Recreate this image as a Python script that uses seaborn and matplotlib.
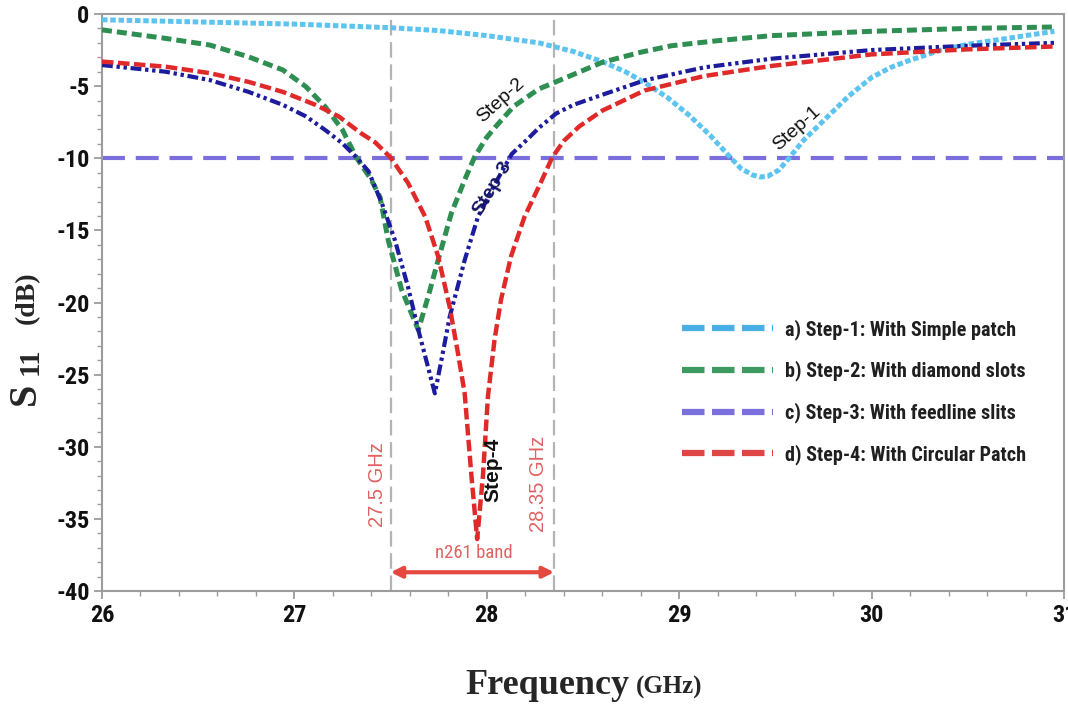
import matplotlib
matplotlib.use("Agg")
import matplotlib.pyplot as plt
from matplotlib import font_manager
from matplotlib.lines import Line2D
import numpy as np
import pandas as pd
import seaborn as sns

# ---------------- data ----------------
freq_step1 = [26.0, 26.5, 27.0, 27.5, 27.75, 28.0, 28.27, 28.45, 28.6, 28.72, 28.82, 28.94,
              29.05, 29.16, 29.27, 29.32, 29.38, 29.42, 29.46, 29.52, 29.57, 29.65, 29.75,
              29.88, 30.0, 30.1, 30.2, 30.36, 30.5, 30.7, 30.95]
s11_step1 = [-0.4, -0.55, -0.7, -0.95, -1.15, -1.5, -2.0, -2.6, -3.3, -4.0, -4.75, -5.8,
             -7.0, -8.4, -10.0, -10.7, -11.15, -11.3, -11.25, -10.8, -10.0, -8.7, -7.4,
             -5.7, -4.4, -3.7, -3.2, -2.5, -2.1, -1.7, -1.2]

freq_step2 = [26.0, 26.33, 26.56, 26.76, 26.94, 27.06, 27.16, 27.25, 27.32, 27.4, 27.445,
              27.488, 27.557, 27.644, 27.695, 27.747, 27.816, 27.885, 27.937, 27.997, 28.04,
              28.14, 28.27, 28.36, 28.6, 28.8, 28.96, 29.2, 29.48, 30.0, 30.5, 30.95]
s11_step2 = [-1.1, -1.69, -2.15, -2.96, -3.88, -5.04, -6.43, -8.04, -9.9, -11.5, -12.7,
             -15.7, -19.1, -21.9, -19.6, -17.06, -13.8, -11.5, -9.9, -8.6, -7.9,
             -6.4, -5.2, -4.7, -3.35, -2.65, -2.2, -1.85, -1.5, -1.2, -1.0, -0.9]

freq_step3 = [26.0, 26.33, 26.56, 26.76, 26.94, 27.06, 27.16, 27.25, 27.32, 27.385, 27.454,
              27.523, 27.59, 27.644, 27.695, 27.73, 27.764, 27.807, 27.885, 27.954, 28.05,
              28.13, 28.21, 28.27, 28.36, 28.45, 28.6, 28.82, 29.13, 29.48, 30.0, 30.5, 30.95]
s11_step3 = [-3.54, -4.0, -4.58, -5.39, -6.3, -7.1, -8.04, -8.97, -9.9, -10.9, -13.1,
             -15.7, -18.9, -21.9, -24.5, -26.3, -24.0, -21.0, -17.06, -14.06, -11.6,
             -9.7, -8.7, -7.9, -6.9, -6.3, -5.6, -4.6, -3.7, -3.1, -2.5, -2.2, -2.0]

freq_step4 = [26.0, 26.33, 26.56, 26.76, 26.94, 27.11, 27.23, 27.35, 27.42, 27.5, 27.59,
              27.68, 27.747, 27.807, 27.85, 27.885, 27.92, 27.95, 27.98, 28.006, 28.04,
              28.074, 28.126, 28.196, 28.28, 28.34, 28.4, 28.48, 28.6, 28.82, 29.13, 29.48,
              30.0, 30.5, 30.95]
s11_step4 = [-3.3, -3.65, -4.1, -4.7, -5.4, -6.3, -7.1, -8.3, -8.9, -9.95, -11.7,
             -14.06, -16.8, -20.3, -23.5, -26.3, -32.0, -36.4, -32.0, -26.5, -22.6,
             -19.8, -16.8, -14.06, -11.7, -9.94, -8.8, -7.8, -6.7, -5.3, -4.3, -3.6,
             -2.8, -2.45, -2.25]

series_names = ["Step-1", "Step-2", "Step-3", "Step-4"]
legend_labels = ["a) Step-1: With Simple patch", "b) Step-2: With diamond slots",
                 "c) Step-3: With feedline slits", "d) Step-4: With Circular Patch"]
threshold_db = -10
band_edges = [27.5, 28.35]
band_labels = ["27.5 GHz", "28.35 GHz"]
band_name = "n261 band"
x_ticks = [26, 27, 28, 29, 30, 31]
y_ticks = [0, -5, -10, -15, -20, -25, -30, -35, -40]

# ---------------- styling ----------------
names = {f.name for f in font_manager.fontManager.ttflist}
def pick(*cands):
    for c in cands:
        if c in names:
            return c
    return "DejaVu Sans"

narrow = pick("Liberation Sans Narrow", "Roboto Condensed", "Open Sans Condensed")
has_narrow = narrow != "DejaVu Sans"
if not has_narrow:
    narrow = pick("Liberation Sans", "Roboto")
serif = pick("Liberation Serif", "DejaVu Serif")
sans = pick("Liberation Sans", "Open Sans", "Lato")

sns.set_theme(style="white")
plt.rcParams["font.family"] = [sans, "DejaVu Sans"]
plt.rcParams["axes.unicode_minus"] = False

colors = {"Step-1": "#5cc4ef", "Step-2": "#2f8f52", "Step-3": "#1c1c9c", "Step-4": "#e02a2a"}
styles = {"Step-1": (0, (1.1, 0.55)), "Step-2": (0, (2.0, 1.0)),
          "Step-3": (0, (2.6, 0.9, 0.8, 0.9, 0.8, 0.9)), "Step-4": (0, (2.6, 1.0))}
widths = {"Step-1": 3.6, "Step-2": 3.6, "Step-3": 3.0, "Step-4": 3.2}
legend_colors = ["#4aaee6", "#3d9a60", "#7a6fdc", "#e04545"]
spine_color = "#9c9c9c"

df = pd.concat([
    pd.DataFrame({"freq": f, "s11": s, "series": n})
    for f, s, n in zip([freq_step1, freq_step2, freq_step3, freq_step4],
                       [s11_step1, s11_step2, s11_step3, s11_step4], series_names)
])

W, H = 1068, 704
fig = plt.figure(figsize=(W / 100, H / 100), dpi=100)
fig.patch.set_facecolor("white")
ax = fig.add_axes([102 / W, 1 - 591 / H, (1064 - 102) / W, (591 - 14) / H])

# reference lines (drawn under curves)
for xb in band_edges:
    ax.axvline(xb, color="#b4b4b4", lw=1.6, linestyle=(0, (7, 3)), zorder=1)
ax.axhline(threshold_db, color="#7a6fdc", lw=3.0, linestyle=(0, (5.5, 2.6)), zorder=2)

for name in series_names:
    sub = df[df["series"] == name]
    sns.lineplot(data=sub, x="freq", y="s11", color=colors[name], lw=widths[name],
                 linestyle=styles[name], estimator=None, sort=False, ax=ax,
                 legend=False, zorder=3)

ax.set_xlim(26, 31)
ax.set_ylim(-40, 0)
ax.set_xticks(x_ticks)
ax.set_yticks(y_ticks)
ax.set_xticks(np.arange(26, 31.01, 0.2), minor=True)
ax.set_yticks(np.arange(-40, 0.01, 1), minor=True)
ax.set_xlabel("")
ax.set_ylabel("")
tick_size = 17.5 if has_narrow else 14
ax.tick_params(axis="both", which="major", direction="out", length=6, width=1.3,
               color=spine_color, labelsize=tick_size, pad=3, bottom=True, left=True)
ax.tick_params(axis="both", which="minor", direction="out", length=3.5, width=1.0,
               color=spine_color, bottom=True, left=True)
for lab in ax.get_xticklabels() + ax.get_yticklabels():
    lab.set_fontfamily(narrow)
    lab.set_fontweight("bold")
    lab.set_color("#111111")
for sp in ax.spines.values():
    sp.set_color(spine_color)
    sp.set_linewidth(1.5)
    sp.set_visible(True)

# annotations
ax.text(29.61, -7.9, "Step-1", rotation=42, ha="center", va="center", fontsize=14, color="#111111")
ax.text(28.075, -5.96, "Step-2", rotation=42, ha="center", va="center", fontsize=14, color="#111111")
ax.text(28.03, -12.1, "Step-3", rotation=59, ha="center", va="center", fontsize=14,
        color="#141460", fontweight="bold")
ax.text(28.03, -31.6, "Step-4", rotation=90, ha="center", va="center", fontsize=15,
        color="#111111", fontweight="bold")
band_color = "#e06262"
ax.text(27.43, -32.6, band_labels[0], rotation=90, ha="center", va="center",
        fontsize=14.5, color=band_color)
ax.text(28.27, -32.6, band_labels[1], rotation=90, ha="center", va="center",
        fontsize=14.5, color=band_color)
ax.text(27.93, -37.4, band_name, ha="center", va="center", fontsize=13.5, color=band_color,
        fontfamily=narrow)
ax.annotate("", xy=(band_edges[0], -38.7), xytext=(band_edges[1], -38.7),
            arrowprops=dict(arrowstyle="<|-|>", color="#e5483f", lw=3,
                            mutation_scale=16, shrinkA=0, shrinkB=0))

# legend
handles = [Line2D([0], [0], color=c, lw=4.5, linestyle=(0, (3.6, 1.2))) for c in legend_colors]
leg_size = 14.5 if has_narrow else 12.5
leg = fig.legend(handles, legend_labels, loc="center left",
                 bbox_to_anchor=(682 / W, 1 - 392 / H), bbox_transform=fig.transFigure,
                 frameon=False, borderpad=0, borderaxespad=0, handlelength=4.5,
                 handletextpad=0.6, labelspacing=1.05,
                 prop={"family": narrow, "size": leg_size, "weight": "bold"})
for t in leg.get_texts():
    t.set_color("#1f1f1f")

# axis labels
fig.text(25 / W, 1 - 394 / H, "S", rotation=90, ha="center", va="center",
         fontsize=29, fontfamily=serif, fontweight="bold")
fig.text(30 / W, 1 - 361 / H, "11", rotation=90, ha="center", va="center",
         fontsize=21, fontfamily=serif, fontweight="bold")
fig.text(27 / W, 1 - 298 / H, "(dB)", rotation=90, ha="center", va="center",
         fontsize=20, fontfamily=serif, fontweight="bold")
fig.text(630 / W, 1 - 694 / H, "Frequency", ha="right", va="baseline", fontsize=26,
         fontfamily=serif, fontweight="bold")
fig.text(636 / W, 1 - 694 / H, "(GHz)", ha="left", va="baseline", fontsize=18,
         fontfamily=serif, fontweight="bold")

fig.savefig("out.png", dpi=100)
